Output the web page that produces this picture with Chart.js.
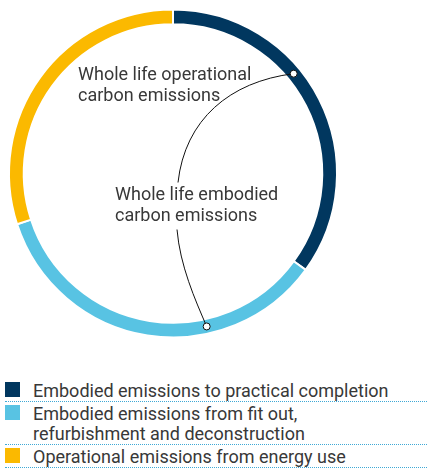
<!DOCTYPE html>
<html>
<head>
<meta charset="utf-8">
<script src="https://cdn.jsdelivr.net/npm/chart.js@4.4.1/dist/chart.umd.min.js"></script>
<style>
    body { margin: 0; background: #fff; font-family: Roboto, sans-serif; color: #383838; }
    #wrap { position: relative; width: 346px; height: 347px; }
    #legend { position: absolute; top: 379px; left: 5px; right: 0; }
    .row { position: relative; padding: 2px 0 0 28px; border-bottom: 1px dotted #3fa9d6; font-size: 18px; line-height: 20px; }
    .row .sw { position: absolute; left: 0; top: 3px; width: 15px; height: 15px; }
</style>
</head>
<body>
<div id="wrap"><canvas id="ringChart"></canvas></div>
<div id="legend"></div>
<script>
// Data
const categories = [
    'Embodied emissions to practical completion',
    'Embodied emissions from fit out,<br>refurbishment and deconstruction',
    'Operational emissions from energy use'
];
const shares = [35, 35, 30];
const colors = ['#01375f', '#58c3e3', '#fbb900'];

// Annotation labels: [text lines], which segment the pointer ends on, position along it
const notes = [
    { lines: ['Whole life operational', 'carbon emissions'], seg: 0, at: 0.4 },
    { lines: ['Whole life embodied', 'carbon emissions'], seg: 1, at: 0.33 }
];

// Legend
document.getElementById('legend').innerHTML = categories.map((c, i) =>
    '<div class="row"><span class="sw" style="background:' + colors[i] + '"></span>' + c + '</div>'
).join('');

// Callout plugin: labels, curved leader lines and small dots on the ring
const callouts = {
    id: 'callouts',
    afterDraw(chart) {
        const ctx = chart.ctx;
        const arcs = chart.getDatasetMeta(0).data;
        const cx = arcs[0].x, cy = arcs[0].y;
        const r = (arcs[0].innerRadius + arcs[0].outerRadius) / 2;
        const pointOn = (n) => {
            const a = arcs[n.seg];
            const ang = a.startAngle + (a.endAngle - a.startAngle) * n.at;
            return { x: cx + r * Math.cos(ang), y: cy + r * Math.sin(ang) };
        };

        ctx.save();
        ctx.fillStyle = '#383838';
        ctx.font = '18px Roboto';
        ctx.textBaseline = 'middle';
        ctx.fillText(notes[0].lines[0], cx - 95, cy - 98);
        ctx.fillText(notes[0].lines[1], cx - 95, cy - 77);
        ctx.fillText(notes[1].lines[0], cx - 58, cy + 22);
        ctx.fillText(notes[1].lines[1], cx - 58, cy + 43);

        const p1 = pointOn(notes[0]);
        const p2 = pointOn(notes[1]);
        ctx.strokeStyle = '#111';
        ctx.lineWidth = 1;
        ctx.beginPath();
        ctx.moveTo(p1.x, p1.y);
        ctx.bezierCurveTo(p1.x - 64, p1.y + 8, cx + 12, cy - 54, cx + 5, cy + 9);
        ctx.stroke();
        ctx.beginPath();
        ctx.moveTo(cx + 4, cy + 56);
        ctx.bezierCurveTo(cx + 7, cy + 92, cx + 22, cy + 126, p2.x, p2.y);
        ctx.stroke();

        [p1, p2].forEach(p => {
            ctx.beginPath();
            ctx.arc(p.x, p.y, 3.5, 0, Math.PI * 2);
            ctx.fillStyle = '#fff';
            ctx.fill();
            ctx.stroke();
        });
        ctx.restore();
    }
};

const ctx = document.getElementById('ringChart').getContext('2d');
new Chart(ctx, {
    type: 'doughnut',
    data: {
        labels: categories,
        datasets: [{
            data: shares,
            backgroundColor: colors,
            borderColor: '#fff',
            borderWidth: 2
        }]
    },
    options: {
        responsive: true,
        maintainAspectRatio: false,
        animation: false,
        cutout: '91%',
        layout: { padding: 8 },
        plugins: {
            legend: { display: false },
            tooltip: { enabled: false }
        }
    },
    plugins: [callouts]
});
</script>
</body>
</html>
